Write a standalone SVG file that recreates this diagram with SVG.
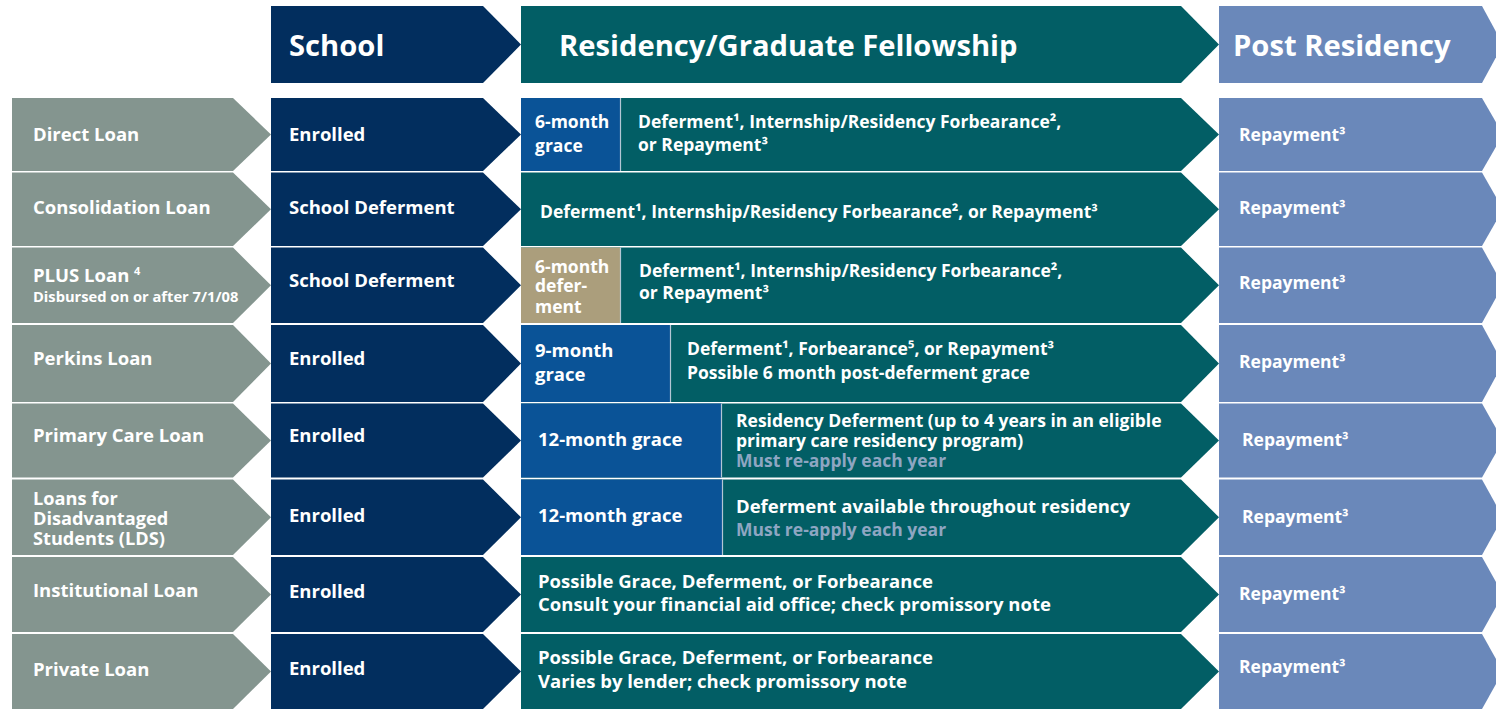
<svg xmlns="http://www.w3.org/2000/svg" width="1496" height="709" viewBox="0 0 1496 709">
<style>
text{font-family:"Open Sans","Liberation Sans",sans-serif;font-weight:700;fill:#fff}
.gray{fill:#84958f}
.navy{fill:#022e5e}
.teal{fill:#025e65}
.blue{fill:#0a5397}
.tan{fill:#ab9e7c}
.post{fill:#6a88ba}
.sep{stroke:#b3c6d4;stroke-width:1.2}
.hd{font-size:29.2px}
.lb{font-size:18.5px}
.lds{font-size:18.2px}
.sm{font-size:14.7px}
.md{font-size:17.5px}
.rp{font-size:17.5px}
.lt{fill:#8ea6c2}
</style>
<rect width="1496" height="709" fill="#fff"/>

<g id="header-school">
<path class="navy" d="M271,6H483L521,44.5L483,83H271Z"/>
<text class="hd" x="289" y="56">School</text>
</g>
<g id="header-residency">
<path class="teal" d="M521,6H1181L1219,44.5L1181,83H521Z"/>
<text class="hd" x="559" y="56">Residency/Graduate Fellowship</text>
</g>
<g id="header-post">
<path class="post" d="M1219,6H1482L1503,44.5L1482,83H1219Z"/>
<text class="hd" x="1233" y="56">Post Residency</text>
</g>

<!-- Row 1 -->
<g id="row1-loan">
<path class="gray" d="M12,98H233L271,134.5L233,171H12Z"/>
<text class="lb" x="33" y="141">Direct Loan</text>
</g>
<g id="row1-school">
<path class="navy" d="M271,98H483L521,134.5L483,171H271Z"/>
<text class="lb" x="289" y="141">Enrolled</text>
</g>
<g id="row1-residency">
<path class="teal" d="M521,98H1181L1219,134.5L1181,171H521Z"/>
<rect class="blue" x="521" y="98" width="99" height="73"/>
<line class="sep" x1="620.5" y1="98" x2="620.5" y2="171"/>
<text class="md" x="535" y="128">6-month</text>
<text class="md" x="535" y="151.5">grace</text>
<text class="md" x="638" y="128">Deferment¹, Internship/Residency Forbearance²,</text>
<text class="md" x="638" y="151">or Repayment³</text>
</g>
<g id="row1-post">
<path class="post" d="M1219,98H1482L1503,134.5L1482,171H1219Z"/>
<text class="rp" x="1239" y="141">Repayment³</text>
</g>

<!-- Row 2 -->
<g id="row2-loan">
<path class="gray" d="M12,172.5H233L271,209.3L233,246H12Z"/>
<text class="lb" x="33" y="213.5">Consolidation Loan</text>
</g>
<g id="row2-school">
<path class="navy" d="M271,172.5H483L521,209.3L483,246H271Z"/>
<text class="lb" x="289" y="213.5">School Deferment</text>
</g>
<g id="row2-residency">
<path class="teal" d="M521,172.5H1181L1219,209.3L1181,246H521Z"/>
<text class="md" x="540" y="218">Deferment¹, Internship/Residency Forbearance², or Repayment³</text>
</g>
<g id="row2-post">
<path class="post" d="M1219,172.5H1482L1503,209.3L1482,246H1219Z"/>
<text class="rp" x="1239" y="213.5">Repayment³</text>
</g>

<!-- Row 3 -->
<g id="row3-loan">
<path class="gray" d="M12,247.5H233L271,285.3L233,323H12Z"/>
<text class="lb" x="33" y="281.5">PLUS Loan <tspan font-size="11" dy="-7">4</tspan></text>
<text class="sm" x="33" y="301.5">Disbursed on or after 7/1/08</text>
</g>
<g id="row3-school">
<path class="navy" d="M271,247.5H483L521,285.3L483,323H271Z"/>
<text class="lb" x="289" y="287">School Deferment</text>
</g>
<g id="row3-residency">
<path class="teal" d="M521,247.5H1181L1219,285.3L1181,323H521Z"/>
<rect class="tan" x="521" y="247.5" width="99" height="75.5"/>
<line class="sep" x1="620.5" y1="247.5" x2="620.5" y2="323"/>
<text class="md" x="535" y="272.5">6-month</text>
<text class="md" x="535" y="292">defer-</text>
<text class="md" x="535" y="312.5">ment</text>
<text class="md" x="639" y="276.5">Deferment¹, Internship/Residency Forbearance²,</text>
<text class="md" x="639" y="298.5">or Repayment³</text>
</g>
<g id="row3-post">
<path class="post" d="M1219,247.5H1482L1503,285.3L1482,323H1219Z"/>
<text class="rp" x="1239" y="289">Repayment³</text>
</g>

<!-- Row 4 -->
<g id="row4-loan">
<path class="gray" d="M12,325H233L271,363.5L233,402H12Z"/>
<text class="lb" x="33" y="365">Perkins Loan</text>
</g>
<g id="row4-school">
<path class="navy" d="M271,325H483L521,363.5L483,402H271Z"/>
<text class="lb" x="289" y="365">Enrolled</text>
</g>
<g id="row4-residency">
<path class="teal" d="M521,325H1181L1219,363.5L1181,402H521Z"/>
<rect class="blue" x="521" y="325" width="149.5" height="77"/>
<line class="sep" x1="670.5" y1="325" x2="670.5" y2="402"/>
<text class="lb" x="535" y="357">9-month</text>
<text class="lb" x="535" y="381">grace</text>
<text class="md" x="687" y="355">Deferment¹, Forbearance⁵, or Repayment³</text>
<text class="md" x="687" y="378.5">Possible 6 month post-deferment grace</text>
</g>
<g id="row4-post">
<path class="post" d="M1219,325H1482L1503,363.5L1482,402H1219Z"/>
<text class="rp" x="1239" y="368">Repayment³</text>
</g>

<!-- Row 5 -->
<g id="row5-loan">
<path class="gray" d="M12,403.5H233L271,440.5L233,477.5H12Z"/>
<text class="lb" x="33" y="442">Primary Care Loan</text>
</g>
<g id="row5-school">
<path class="navy" d="M271,403.5H483L521,440.5L483,477.5H271Z"/>
<text class="lb" x="289" y="442">Enrolled</text>
</g>
<g id="row5-residency">
<path class="teal" d="M521,403.5H1181L1219,440.5L1181,477.5H521Z"/>
<rect class="blue" x="521" y="403.5" width="200.5" height="74"/>
<line class="sep" x1="721.5" y1="403.5" x2="721.5" y2="477.5"/>
<text class="lb" x="538" y="446">12-month grace</text>
<text class="md" x="736" y="426.5">Residency Deferment (up to 4 years in an eligible</text>
<text class="md" x="736" y="447">primary care residency program)</text>
<text class="md lt" x="736" y="467">Must re-apply each year</text>
</g>
<g id="row5-post">
<path class="post" d="M1219,403.5H1482L1503,440.5L1482,477.5H1219Z"/>
<text class="rp" x="1242" y="446">Repayment³</text>
</g>

<!-- Row 6 -->
<g id="row6-loan">
<path class="gray" d="M12,479.5H233L271,517.3L233,555H12Z"/>
<text class="lds" x="33" y="504.5">Loans for</text>
<text class="lds" x="33" y="525">Disadvantaged</text>
<text class="lds" x="33" y="545">Students (LDS)</text>
</g>
<g id="row6-school">
<path class="navy" d="M271,479.5H483L521,517.3L483,555H271Z"/>
<text class="lb" x="289" y="521.5">Enrolled</text>
</g>
<g id="row6-residency">
<path class="teal" d="M521,479.5H1181L1219,517.3L1181,555H521Z"/>
<rect class="blue" x="521" y="479.5" width="201" height="75.5"/>
<line class="sep" x1="722.5" y1="479.5" x2="722.5" y2="555"/>
<text class="lb" x="538" y="522">12-month grace</text>
<text class="lb" x="736" y="513">Deferment available throughout residency</text>
<text class="md lt" x="736" y="535.5">Must re-apply each year</text>
</g>
<g id="row6-post">
<path class="post" d="M1219,479.5H1482L1503,517.3L1482,555H1219Z"/>
<text class="rp" x="1242" y="523">Repayment³</text>
</g>

<!-- Row 7 -->
<g id="row7-loan">
<path class="gray" d="M12,557H233L271,594.5L233,632H12Z"/>
<text class="lb" x="33" y="597">Institutional Loan</text>
</g>
<g id="row7-school">
<path class="navy" d="M271,557H483L521,594.5L483,632H271Z"/>
<text class="lb" x="289" y="598">Enrolled</text>
</g>
<g id="row7-residency">
<path class="teal" d="M521,557H1181L1219,594.5L1181,632H521Z"/>
<text class="lb" x="538" y="587.5">Possible Grace, Deferment, or Forbearance</text>
<text class="lb" x="538" y="610.5">Consult your financial aid office; check promissory note</text>
</g>
<g id="row7-post">
<path class="post" d="M1219,557H1482L1503,594.5L1482,632H1219Z"/>
<text class="rp" x="1239" y="600">Repayment³</text>
</g>

<!-- Row 8 -->
<g id="row8-loan">
<path class="gray" d="M12,634H233L271,671.5L233,709H12Z"/>
<text class="lb" x="33" y="676">Private Loan</text>
</g>
<g id="row8-school">
<path class="navy" d="M271,634H483L521,671.5L483,709H271Z"/>
<text class="lb" x="289" y="675">Enrolled</text>
</g>
<g id="row8-residency">
<path class="teal" d="M521,634H1181L1219,671.5L1181,709H521Z"/>
<text class="lb" x="538" y="664">Possible Grace, Deferment, or Forbearance</text>
<text class="lb" x="538" y="687.5">Varies by lender; check promissory note</text>
</g>
<g id="row8-post">
<path class="post" d="M1219,634H1482L1503,671.5L1482,709H1219Z"/>
<text class="rp" x="1239" y="673">Repayment³</text>
</g>
</svg>
